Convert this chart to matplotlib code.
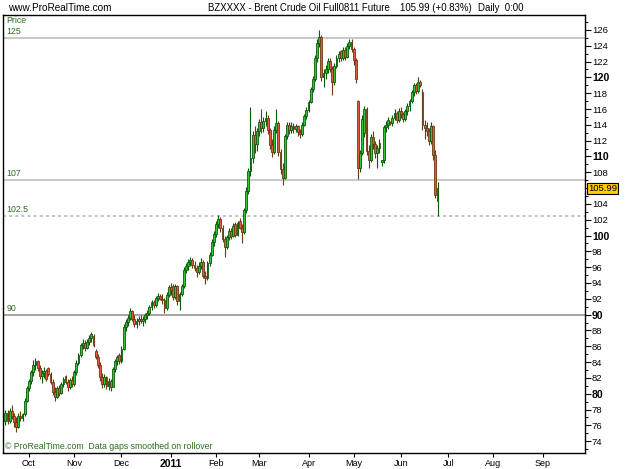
import numpy as np
import pandas as pd
import matplotlib
matplotlib.use('Agg')
from matplotlib import pyplot as plt
from matplotlib.ticker import MultipleLocator

plt.rcParams['font.family'] = ['Liberation Sans', 'DejaVu Sans']

# daily OHLC, 2010-09-16 .. 2011-06-24
opens = [
    # Sep
    76.5, 77.5, 76.6, 77.8, 77.2, 76.4, 75.8, 77.2, 76.9, 77.4, 79.1,
    # Oct
    80.7, 81.6, 82.7, 83.6, 84.1, 83.3, 82.2, 82.6, 82.9, 83.2, 82.5, 81.5, 80.2, 79.6, 80.7, 80.1, 81.2, 82.2, 81.5, 80.9, 81.7,
    # Nov
    81.2, 82.7, 83.9, 84.9, 86.1, 86.4, 85.8, 86.6, 87.1, 87.3, 85.4, 84.7, 83.6, 82.1, 81.2, 82.1, 81.0, 81.6, 80.9, 83.1, 84.1, 84.9,
    # Dec
    84.1, 85.7, 88.4, 89.1, 89.6, 90.4, 89.5, 88.8, 89.2, 89.5, 89.2, 89.4, 89.9, 90.2, 91.0, 91.6, 91.2, 92.1, 92.3, 92.0, 91.8, 90.8, 92.5,
    # Jan
    93.5, 93.6, 92.2, 93.6, 91.7, 92.6, 93.6, 95.7, 96.1, 96.6, 96.9, 96.3, 95.9, 95.4, 96.2, 96.7, 94.9, 94.6, 96.5, 97.6, 99.2,
    # Feb
    100.2, 101.5, 102.1, 100.9, 99.6, 98.6, 99.8, 100.6, 100.0, 101.4, 100.1, 101.9, 101.0, 100.4, 103.2, 105.6, 108.1, 109.8, 112.7, 111.6,
    # Mar
    113.2, 114.3, 113.6, 114.5, 114.9, 113.3, 111.4, 110.6, 113.4, 114.2, 110.6, 108.4, 107.3, 112.6, 114.0, 113.4, 113.9, 113.5, 113.8, 113.1, 112.8, 114.0, 115.1,
    # Apr
    115.9, 116.9, 118.5, 119.8, 122.4, 124.4, 125.1, 120.1, 120.6, 121.1, 122.1, 121.0, 119.4, 121.5, 122.5, 123.3, 122.4, 123.5, 122.6, 124.0, 124.5,
    # May
    123.6, 122.2, 117.0, 108.6, 110.5, 113.0, 116.0, 110.7, 109.6, 112.4, 111.6, 110.4, 111.1, 109.3, 109.5, 113.7, 114.0, 114.3, 114.2, 114.9, 115.5, 114.6,
    # Jun
    115.7, 115.4, 114.8, 115.7, 116.4, 117.0, 118.1, 119.0, 118.3, 119.4, 118.2, 114.0, 113.6, 113.2, 111.9, 113.8, 110.2, 104.4,
]
highs = [
    78.0, 78.0, 78.2, 78.6, 77.6, 77.0, 77.6, 77.8, 77.6, 79.4, 81.0,
    81.9, 83.0, 84.2, 84.5, 84.3, 83.6, 83.0, 83.4, 83.1, 83.4, 82.8, 81.8, 80.9, 81.0, 81.1, 81.5, 82.1, 82.4, 81.9, 82.0, 82.2,
    83.0, 84.2, 85.2, 86.4, 86.9, 86.8, 86.9, 87.4, 87.8, 87.5, 85.6, 85.0, 84.0, 82.6, 82.5, 82.3, 82.0, 81.9, 83.4, 84.4, 84.9, 85.1,
    86.0, 88.8, 89.5, 90.0, 90.9, 90.6, 89.9, 89.6, 89.8, 90.0, 89.8, 90.2, 90.6, 91.2, 91.9, 91.9, 92.4, 92.7, 92.6, 92.6, 92.1, 92.8, 93.8,
    94.0, 93.9, 93.9, 93.8, 92.9, 93.9, 96.0, 96.5, 97.0, 97.3, 97.2, 96.8, 96.3, 96.6, 97.1, 96.9, 95.5, 96.8, 97.9, 99.5, 100.6,
    101.9, 102.6, 102.4, 101.3, 100.0, 100.1, 100.9, 100.9, 101.6, 101.7, 101.9, 102.2, 101.4, 103.5, 106.2, 108.6, 116.3, 113.2, 113.8, 113.6,
    114.8, 116.0, 115.0, 115.8, 115.3, 113.6, 112.2, 113.8, 116.0, 114.5, 111.0, 109.2, 112.9, 114.4, 114.3, 114.3, 114.2, 114.1, 114.0, 113.5, 114.3, 115.4, 116.2,
    117.2, 118.8, 120.2, 122.8, 124.9, 126.0, 125.4, 121.0, 121.6, 122.5, 122.4, 121.4, 121.8, 122.8, 123.4, 123.5, 123.9, 123.8, 124.3, 124.8, 124.9,
    123.9, 122.5, 117.2, 110.8, 115.2, 116.4, 116.3, 111.4, 112.8, 113.2, 112.0, 111.5, 112.2, 109.6, 114.0, 114.5, 115.0, 114.5, 115.3, 116.0, 115.8, 116.1,
    116.3, 115.6, 116.0, 116.8, 117.3, 118.4, 119.3, 119.3, 120.0, 119.7, 118.5, 114.6, 114.4, 113.6, 114.4, 114.0, 110.8, 106.8,
]
lows = [
    76.0, 76.2, 76.3, 76.8, 75.8, 75.1, 75.6, 76.6, 76.5, 77.2, 78.9,
    80.3, 81.2, 82.3, 83.0, 82.9, 81.8, 81.4, 82.0, 81.6, 82.2, 81.2, 79.8, 79.1, 79.4, 79.7, 79.9, 80.8, 81.2, 80.4, 80.6, 80.9,
    81.0, 82.4, 83.6, 84.7, 85.6, 85.4, 85.6, 86.2, 86.6, 85.9, 84.4, 83.2, 81.6, 80.7, 80.9, 80.6, 80.5, 80.3, 80.8, 82.8, 83.6, 83.8,
    83.9, 85.5, 87.9, 88.6, 89.3, 89.2, 88.4, 88.3, 88.7, 88.9, 88.5, 89.0, 89.5, 90.0, 90.6, 90.8, 91.0, 91.7, 91.8, 91.4, 90.2, 90.6, 92.2,
    92.5, 91.9, 92.0, 91.2, 90.6, 92.3, 93.4, 95.2, 95.6, 96.1, 95.9, 95.5, 94.8, 95.1, 95.8, 94.6, 93.9, 94.4, 96.2, 97.4, 98.7,
    99.8, 100.9, 100.5, 99.2, 97.3, 98.3, 99.4, 99.5, 99.8, 99.8, 99.9, 100.8, 99.0, 100.2, 102.9, 105.2, 107.5, 109.2, 110.4, 110.7,
    112.6, 113.0, 113.1, 113.9, 112.9, 110.9, 109.9, 110.3, 113.0, 110.0, 107.8, 106.4, 107.1, 112.2, 112.8, 113.0, 113.0, 113.1, 112.6, 112.3, 112.6, 113.8, 114.8,
    115.6, 116.7, 118.1, 119.5, 122.0, 123.8, 119.6, 118.8, 119.8, 120.6, 120.7, 117.8, 119.1, 121.2, 122.0, 122.1, 122.2, 122.2, 122.4, 123.6, 123.2,
    121.6, 119.3, 107.2, 108.0, 110.2, 112.5, 110.2, 108.6, 109.3, 110.9, 109.8, 108.6, 110.5, 108.8, 109.2, 113.1, 113.5, 114.0, 113.9, 114.6, 114.2, 114.3,
    114.9, 114.3, 114.5, 115.3, 115.8, 116.7, 117.6, 117.9, 118.0, 118.8, 113.4, 112.2, 112.6, 111.4, 111.6, 109.5, 104.8, 102.5,
]
closes = [
    77.5, 76.5, 77.8, 77.2, 76.4, 75.8, 77.2, 76.9, 77.4, 79.1, 80.7,
    81.6, 82.7, 83.6, 84.1, 83.3, 82.2, 82.6, 82.9, 81.9, 82.5, 81.5, 80.2, 79.6, 80.7, 80.1, 81.2, 81.8, 81.5, 80.9, 81.7, 81.2,
    82.7, 83.9, 84.9, 86.1, 86.4, 85.8, 86.6, 87.1, 87.5, 86.1, 84.7, 83.6, 82.1, 81.2, 82.1, 81.0, 81.6, 80.9, 83.1, 84.1, 84.6, 84.1,
    85.7, 88.4, 89.1, 89.6, 90.5, 89.5, 88.8, 89.2, 89.5, 89.2, 89.4, 89.9, 90.2, 91.0, 91.6, 91.2, 92.1, 92.3, 92.0, 91.8, 90.8, 92.5, 93.5,
    93.1, 92.2, 93.6, 91.7, 92.6, 93.6, 95.7, 96.1, 96.6, 96.9, 96.3, 95.9, 95.4, 96.2, 96.7, 94.9, 94.6, 96.5, 97.6, 99.2, 100.2,
    101.5, 102.1, 100.9, 99.6, 98.6, 99.8, 100.6, 100.0, 101.2, 100.1, 101.6, 101.0, 100.4, 103.2, 105.6, 108.1, 109.8, 112.7, 111.6, 113.2,
    114.3, 113.6, 114.5, 114.9, 113.3, 111.4, 110.6, 113.4, 114.2, 110.6, 108.4, 107.3, 112.6, 114.0, 113.4, 113.9, 113.5, 113.8, 113.1, 112.8, 114.0, 115.1, 115.9,
    116.9, 118.5, 119.8, 122.4, 124.4, 125.1, 120.1, 120.6, 121.1, 122.1, 121.0, 119.4, 121.5, 122.5, 123.0, 122.4, 123.5, 122.6, 124.0, 124.5, 123.6,
    122.2, 119.8, 108.6, 110.5, 114.8, 116.0, 110.7, 109.6, 112.4, 111.6, 110.4, 111.1, 111.7, 109.5, 113.7, 114.0, 114.6, 114.2, 114.9, 115.5, 114.6, 115.7,
    115.4, 114.8, 115.7, 116.4, 117.0, 118.1, 119.0, 118.3, 119.4, 119.1, 114.0, 113.6, 113.2, 111.9, 113.8, 110.2, 105.12, 105.99,
]

level_lines = [125, 107, 102.5, 90]
level_labels = ['125', '107', '102.5', '90']
last_price = '105.99'

days = pd.bdate_range('2010-09-16', '2011-06-24')
axis_days = pd.bdate_range('2010-09-16', '2011-09-30')

o = np.array(opens)
h = np.array(highs)
l = np.array(lows)
c = np.array(closes)
x = np.arange(len(days))
up = c >= o

fig = plt.figure(figsize=(6.25, 4.69), dpi=100)
ax = fig.add_axes([3 / 625, 16 / 469, 582 / 625, 438 / 469])

green = '#2d6e1e'
# horizontal levels
ax.axhline(125, color='#c4c4c4', lw=1.3, zorder=1)
ax.axhline(107, color='#c4c4c4', lw=1.3, zorder=1)
ax.axhline(102.5, color='#b4b4b4', lw=1.1, ls=(0, (2, 2)), zorder=1)
ax.axhline(90, color='#8c8c8c', lw=1.1, zorder=1)
for lv, lab in zip(level_lines, level_labels):
    ax.text(0.006, lv + 0.25, lab, transform=ax.get_yaxis_transform(),
            fontsize=6.3, color=green, va='bottom', ha='left')
ax.text(0.006, 0.997, 'Price', transform=ax.transAxes, fontsize=6.3,
        color=green, va='top', ha='left')

# candles
edge = np.where(up, '#0b5a0b', '#6b3a10')
face = np.where(up, '#35c435', '#e05a4a')
ax.vlines(x, l, h, colors=edge, lw=0.8, zorder=2)
ax.bar(x, np.abs(c - o), bottom=np.minimum(o, c), width=0.85,
       color=face, edgecolor=edge, linewidth=0.6, zorder=3)

ax.set_xlim(-1.1, 269.6)
ax.set_ylim(72.5, 127.89)

# x axis: first weekday of each month
ticks, labels = [], []
for i in range(1, len(axis_days)):
    if axis_days[i].month != axis_days[i - 1].month:
        ticks.append(i)
        labels.append('2011' if axis_days[i].month == 1 else axis_days[i].strftime('%b'))
ax.set_xticks(ticks)
ax.set_xticklabels(labels, fontsize=6.5)
for t in ax.get_xticklabels():
    if t.get_text() == '2011':
        t.set_fontweight('bold')
        t.set_fontsize(7.5)
ax.tick_params(axis='x', length=3, width=0.8, pad=1.5, direction='out')

# y axis on the right
ax.yaxis.tick_right()
yt = list(range(74, 127, 2))
ax.set_yticks(yt)
ax.set_yticklabels(['' if v == 106 else str(v) for v in yt], fontsize=6.8)
for t, v in zip(ax.get_yticklabels(), yt):
    if v % 10 == 0:
        t.set_fontweight('bold')
        t.set_fontsize(7.5)
ax.yaxis.set_minor_locator(MultipleLocator(1))
ax.tick_params(axis='y', which='major', length=4, width=0.8, pad=1)
ax.tick_params(axis='y', which='minor', length=2, width=0.7)
for s in ax.spines.values():
    s.set_linewidth(1.0)

# last price tag
ax.text(1.005, 105.99, last_price, transform=ax.get_yaxis_transform(),
        fontsize=6.8, ha='left', va='center', zorder=5,
        bbox=dict(boxstyle='square,pad=0.12', fc='#ffcc00', ec='black', lw=0.8))

# header and footer
fig.text(8 / 625, 1 - 8 / 469, 'www.ProRealTime.com', fontsize=7.2, va='center', ha='left')
fig.text(208 / 625, 1 - 8 / 469, 'BZXXXX - Brent Crude Oil Full0811 Future', fontsize=6.9,
         va='center', ha='left')
fig.text(400 / 625, 1 - 8 / 469, '105.99 (+0.83%)', fontsize=6.9, va='center', ha='left')
fig.text(478 / 625, 1 - 8 / 469, 'Daily  0:00', fontsize=6.9, va='center', ha='left')
fig.text(5 / 625, 1 - 446 / 469, '\u00a9 ProRealTime.com  Data gaps smoothed on rollover',
         fontsize=6.3, color=green, va='center', ha='left')

fig.savefig('out.png', dpi=100)
